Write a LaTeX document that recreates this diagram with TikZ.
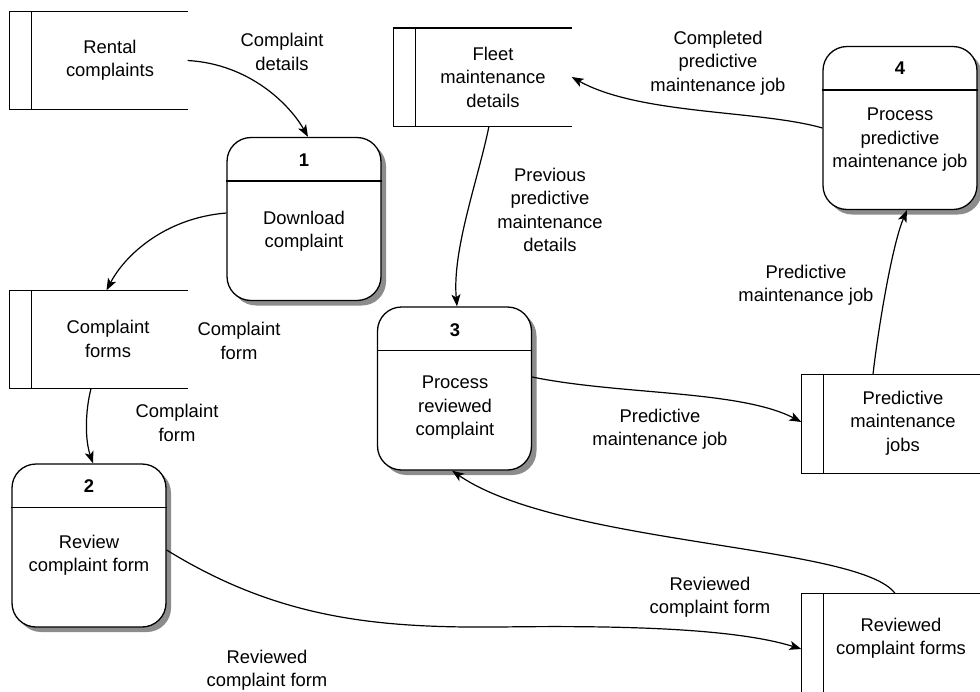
\documentclass[tikz,border=0pt]{standalone}
\usepackage{fontspec}
\setmainfont{Liberation Sans}
\usetikzlibrary{arrows.meta,shadows}

\begin{document}
\begin{tikzpicture}[x=1pt,y=-1pt,line width=1.3pt,
  lbl/.style={align=center,inner sep=0pt,font=\fontsize{18.4}{23.5}\selectfont},
  num/.style={inner sep=0pt,font=\fontsize{18.4}{23.5}\selectfont\bfseries},
  proc/.style={draw,rounded corners=24pt,fill=white,inner sep=0pt,
    minimum width=154pt,minimum height=163pt,
    drop shadow={shadow xshift=5pt,shadow yshift=-5pt,fill=black!45,opacity=1}},
  storearea/.style={inner sep=0pt,minimum height=97pt},
  flow/.style={line width=1.2pt,-{Stealth[length=12pt,width=9pt,inset=3pt]}},
]
\useasboundingbox (0,0) rectangle (980,691);

% ---------- processes ----------
\node[proc] (p1) at (304,219)   {};
\node[proc] (p2) at (89,545.5)  {};
\node[proc] (p3) at (454.5,388.5) {};
\node[proc] (p4) at (900,128)   {};
\foreach \p in {p1,p2,p3,p4}
  \draw ([yshift=-44pt]\p.north west) -- ([yshift=-44pt]\p.north east);

\node[num] (n1) at (304,160) {1};
\node[lbl] (t1) at (304,231) {Download\\complaint};
\node[num] (n2) at (89,486)  {2};
\node[lbl] (t2) at (89,555)  {Review\\complaint form};
\node[num] (n3) at (455,330) {3};
\node[lbl] (t3) at (455,408) {Process\\reviewed\\complaint};
\node[num] (n4) at (900,68)  {4};
\node[lbl] (t4) at (900,140) {Process\\predictive\\maintenance job};

% ---------- data stores (open on the right) ----------
\node[storearea,minimum width=177pt] (rc) at (98.5,60.5)  {};
\node[storearea,minimum width=177pt] (fm) at (482.5,77)   {};
\node[storearea,minimum width=177pt] (cf) at (98.5,339.5) {};
\node[storearea,minimum width=178pt,minimum height=98pt] (pj) at (891,424) {};
\node[storearea,minimum width=178pt,minimum height=110pt] (rf) at (891,649) {};
\foreach \s in {rc,fm,cf,pj,rf}{
  \draw (\s.north east) -- (\s.north west) -- (\s.south west) -- (\s.south east);
  \draw ([xshift=22pt]\s.north west) -- ([xshift=22pt]\s.south west);
}
\node[lbl] (s1) at (110,60)  {Rental\\complaints};
\node[lbl] (s2) at (493,77)  {Fleet\\maintenance\\details};
\node[lbl] (s3) at (108,339) {Complaint\\forms};
\node[lbl] (s4) at (903,423) {Predictive\\maintenance\\jobs};
\node[lbl] (s5) at (901,638) {Reviewed\\complaint forms};

% ---------- data flows ----------
\draw[flow] (rc.east) .. controls (250,64) and (290,105) .. ([xshift=4pt]p1.north);
\draw[flow] ([yshift=6pt]p1.west) .. controls (165,218) and (125,255) .. ([xshift=8pt]cf.north);
\draw[flow] ([xshift=-7.5pt]cf.south) .. controls (85,412) and (85,440) .. ([xshift=4pt]p2.north);
\draw[flow] ([yshift=-4.5pt]p2.east) .. controls (280,620) and (380,628) .. (500,627)
            .. controls (640,625) and (740,630) .. (rf.west);
\draw[flow] ([xshift=6.5pt]fm.south) .. controls (478,180) and (452,250) .. ([xshift=2.5pt]p3.north);
\draw[flow] ([yshift=11.5pt]p3.east) .. controls (620,395) and (740,390) .. ([yshift=2pt]pj.west);
\draw[flow] ([xshift=-18pt]pj.north) .. controls (878,330) and (892,245) .. ([xshift=7pt]p4.south);
\draw[flow] (p4.west) .. controls (760,110) and (640,115) .. (fm.east);
\draw[flow] ([xshift=4pt]rf.north) .. controls (860,545) and (560,545) .. ([xshift=-2.5pt]p3.south);

% ---------- flow labels ----------
\node[lbl] (l1) at (282,52)  {Complaint\\details};
\node[lbl] (l2) at (239,341) {Complaint\\form};
\node[lbl] (l3) at (177,423) {Complaint\\form};
\node[lbl] (l4) at (550,210) {Previous\\predictive\\maintenance\\details};
\node[lbl] (l5) at (718,63)  {Completed\\predictive\\maintenance job};
\node[lbl] (l6) at (806,285) {Predictive\\maintenance job};
\node[lbl] (l7) at (660,429) {Predictive\\maintenance job};
\node[lbl] (l8) at (710,597) {Reviewed\\complaint form};
\node[lbl] (l9) at (267,670) {Reviewed\\complaint form};
\end{tikzpicture}
\end{document}
